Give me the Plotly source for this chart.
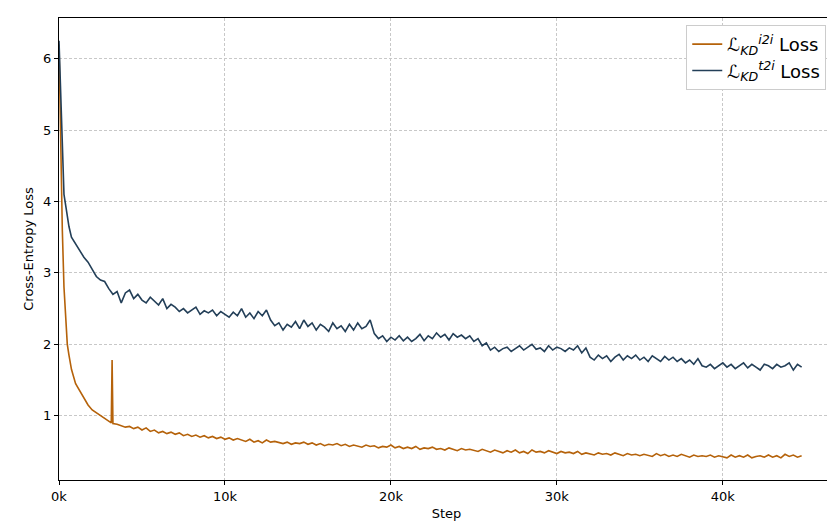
import plotly.graph_objects as go

# step positions: dense start, then every 250 steps
head_steps = [0, 100, 200, 300, 400, 500, 600, 750]
steps = head_steps + list(range(1000, 45000, 250))

t2i_loss = [6.25, 5.5, 4.6, 4.1, 3.95, 3.8, 3.65, 3.5,
            3.40, 3.30, 3.22, 3.15, 3.05, 2.95, 2.90, 2.88,
            2.78, 2.70, 2.74, 2.58, 2.72, 2.76, 2.64, 2.70,
            2.62, 2.58, 2.66, 2.60, 2.55, 2.64, 2.50, 2.56,
            2.52, 2.46, 2.50, 2.44, 2.48, 2.52, 2.42, 2.47,
            2.44, 2.48, 2.40, 2.46, 2.42, 2.38, 2.45, 2.40,
            2.50, 2.38, 2.44, 2.36, 2.46, 2.40, 2.48, 2.34,
            2.26, 2.30, 2.20, 2.28, 2.24, 2.32, 2.22, 2.34,
            2.25, 2.30, 2.20, 2.28, 2.24, 2.18, 2.30, 2.22,
            2.26, 2.18, 2.28, 2.20, 2.30, 2.22, 2.25, 2.34,
            2.15, 2.08, 2.12, 2.04, 2.10, 2.06, 2.12, 2.05,
            2.10, 2.04, 2.08, 2.14, 2.05, 2.12, 2.08, 2.16,
            2.10, 2.14, 2.06, 2.15, 2.10, 2.13, 2.08, 2.12,
            2.04, 2.08, 1.98, 2.02, 1.92, 1.96, 1.90, 1.94,
            1.96, 1.90, 1.94, 1.98, 1.92, 1.96, 2.00, 1.93,
            1.95, 1.90, 1.98, 1.92, 1.96, 1.94, 1.90, 1.95,
            1.92, 1.98, 1.88, 1.95, 1.82, 1.78, 1.85, 1.80,
            1.84, 1.76, 1.82, 1.86, 1.78, 1.84, 1.80, 1.85,
            1.78, 1.82, 1.76, 1.84, 1.80, 1.76, 1.83, 1.78,
            1.82, 1.76, 1.80, 1.74, 1.78, 1.72, 1.80, 1.70,
            1.68, 1.72, 1.66, 1.70, 1.74, 1.68, 1.72, 1.66,
            1.70, 1.74, 1.67, 1.72, 1.68, 1.64, 1.72, 1.70,
            1.66, 1.72, 1.68, 1.70, 1.74, 1.64, 1.72, 1.68]

# i2i has a one-off spike near step 3200
i2i_steps = [0, 100, 200, 300, 400, 500, 600, 750,
             1000, 1250, 1500, 1750, 2000, 2250, 2500, 2750,
             3000, 3150, 3200, 3250, 3500, 3750, 4000, 4250, 4500, 4750] + list(range(5000, 45000, 250))

i2i_loss = [6.2, 4.8, 3.6, 2.8, 2.3, 2.0, 1.85, 1.65,
            1.45, 1.35, 1.25, 1.15, 1.08, 1.04, 1.00, 0.96,
            0.92, 0.90, 1.78, 0.89, 0.88, 0.86, 0.84, 0.85, 0.82, 0.84,
            0.80, 0.83, 0.78, 0.80, 0.76, 0.78, 0.75, 0.77,
            0.74, 0.76, 0.72, 0.74, 0.71, 0.73, 0.70, 0.72,
            0.69, 0.71, 0.68, 0.70, 0.67, 0.69, 0.66, 0.68,
            0.66, 0.64, 0.67, 0.63, 0.65, 0.62, 0.66, 0.63,
            0.64, 0.62, 0.61, 0.63, 0.60, 0.62, 0.61, 0.63,
            0.60, 0.62, 0.59, 0.61, 0.58, 0.60, 0.59, 0.61,
            0.58, 0.60, 0.57, 0.59, 0.58, 0.56, 0.59, 0.57,
            0.58, 0.55, 0.57, 0.56, 0.59, 0.55, 0.57, 0.54,
            0.56, 0.54, 0.57, 0.53, 0.55, 0.54, 0.56, 0.53,
            0.54, 0.52, 0.55, 0.53, 0.51, 0.54, 0.52, 0.53,
            0.52, 0.50, 0.53, 0.51, 0.49, 0.52, 0.50, 0.48,
            0.51, 0.49, 0.52, 0.48, 0.50, 0.47, 0.52, 0.49,
            0.50, 0.48, 0.51, 0.49, 0.47, 0.50, 0.48, 0.49,
            0.47, 0.50, 0.46, 0.48, 0.47, 0.45, 0.48, 0.46,
            0.47, 0.45, 0.48, 0.46, 0.44, 0.47, 0.45, 0.46,
            0.44, 0.46, 0.45, 0.43, 0.47, 0.44, 0.46, 0.43,
            0.45, 0.43, 0.46, 0.44, 0.42, 0.45, 0.43, 0.44,
            0.43, 0.45, 0.42, 0.44, 0.43, 0.41, 0.45, 0.42,
            0.44, 0.42, 0.45, 0.41, 0.43, 0.44, 0.42, 0.45,
            0.42, 0.44, 0.41, 0.46, 0.43, 0.45, 0.42, 0.44]

x_ticks = [0, 10000, 20000, 30000, 40000]
x_labels = ['0k', '10k', '20k', '30k', '40k']

fig = go.Figure()
fig.add_trace(go.Scatter(x=i2i_steps, y=i2i_loss, mode='lines',
                         line=dict(color='#b5620a', width=1.6),
                         name='<i>ℒ</i><sub><i>KD</i></sub><sup><i>i2i</i></sup> Loss'))
fig.add_trace(go.Scatter(x=steps, y=t2i_loss, mode='lines',
                         line=dict(color='#233f58', width=1.6),
                         name='<i>ℒ</i><sub><i>KD</i></sub><sup><i>t2i</i></sup> Loss'))

axis = dict(showline=True, linecolor='black', linewidth=1, mirror=True,
            ticks='outside', ticklen=4, tickcolor='black', automargin=False,
            showgrid=True, gridcolor='#c8c8c8', griddash='3px,2px', gridwidth=0.6,
            zeroline=False, tickfont=dict(size=13, color='black'))

fig.update_layout(
    width=835, height=527,
    margin=dict(l=51, r=9, t=10, b=55),
    plot_bgcolor='white', paper_bgcolor='white',
    font=dict(family='DejaVu Sans', color='black'),
    xaxis=dict(axis, range=[0, 46700], tickvals=x_ticks, ticktext=x_labels,
               title=dict(text='Step', font=dict(size=13), standoff=6)),
    yaxis=dict(axis, range=[0.1, 6.57], tickvals=[1, 2, 3, 4, 5, 6],
               title=dict(text='Cross-Entropy Loss', font=dict(size=13), standoff=6)),
    legend=dict(x=0.99, y=0.985, xanchor='right', yanchor='top',
                bgcolor='white', bordercolor='#cccccc', borderwidth=1,
                font=dict(size=18)),
)

fig.write_html("out.html")
